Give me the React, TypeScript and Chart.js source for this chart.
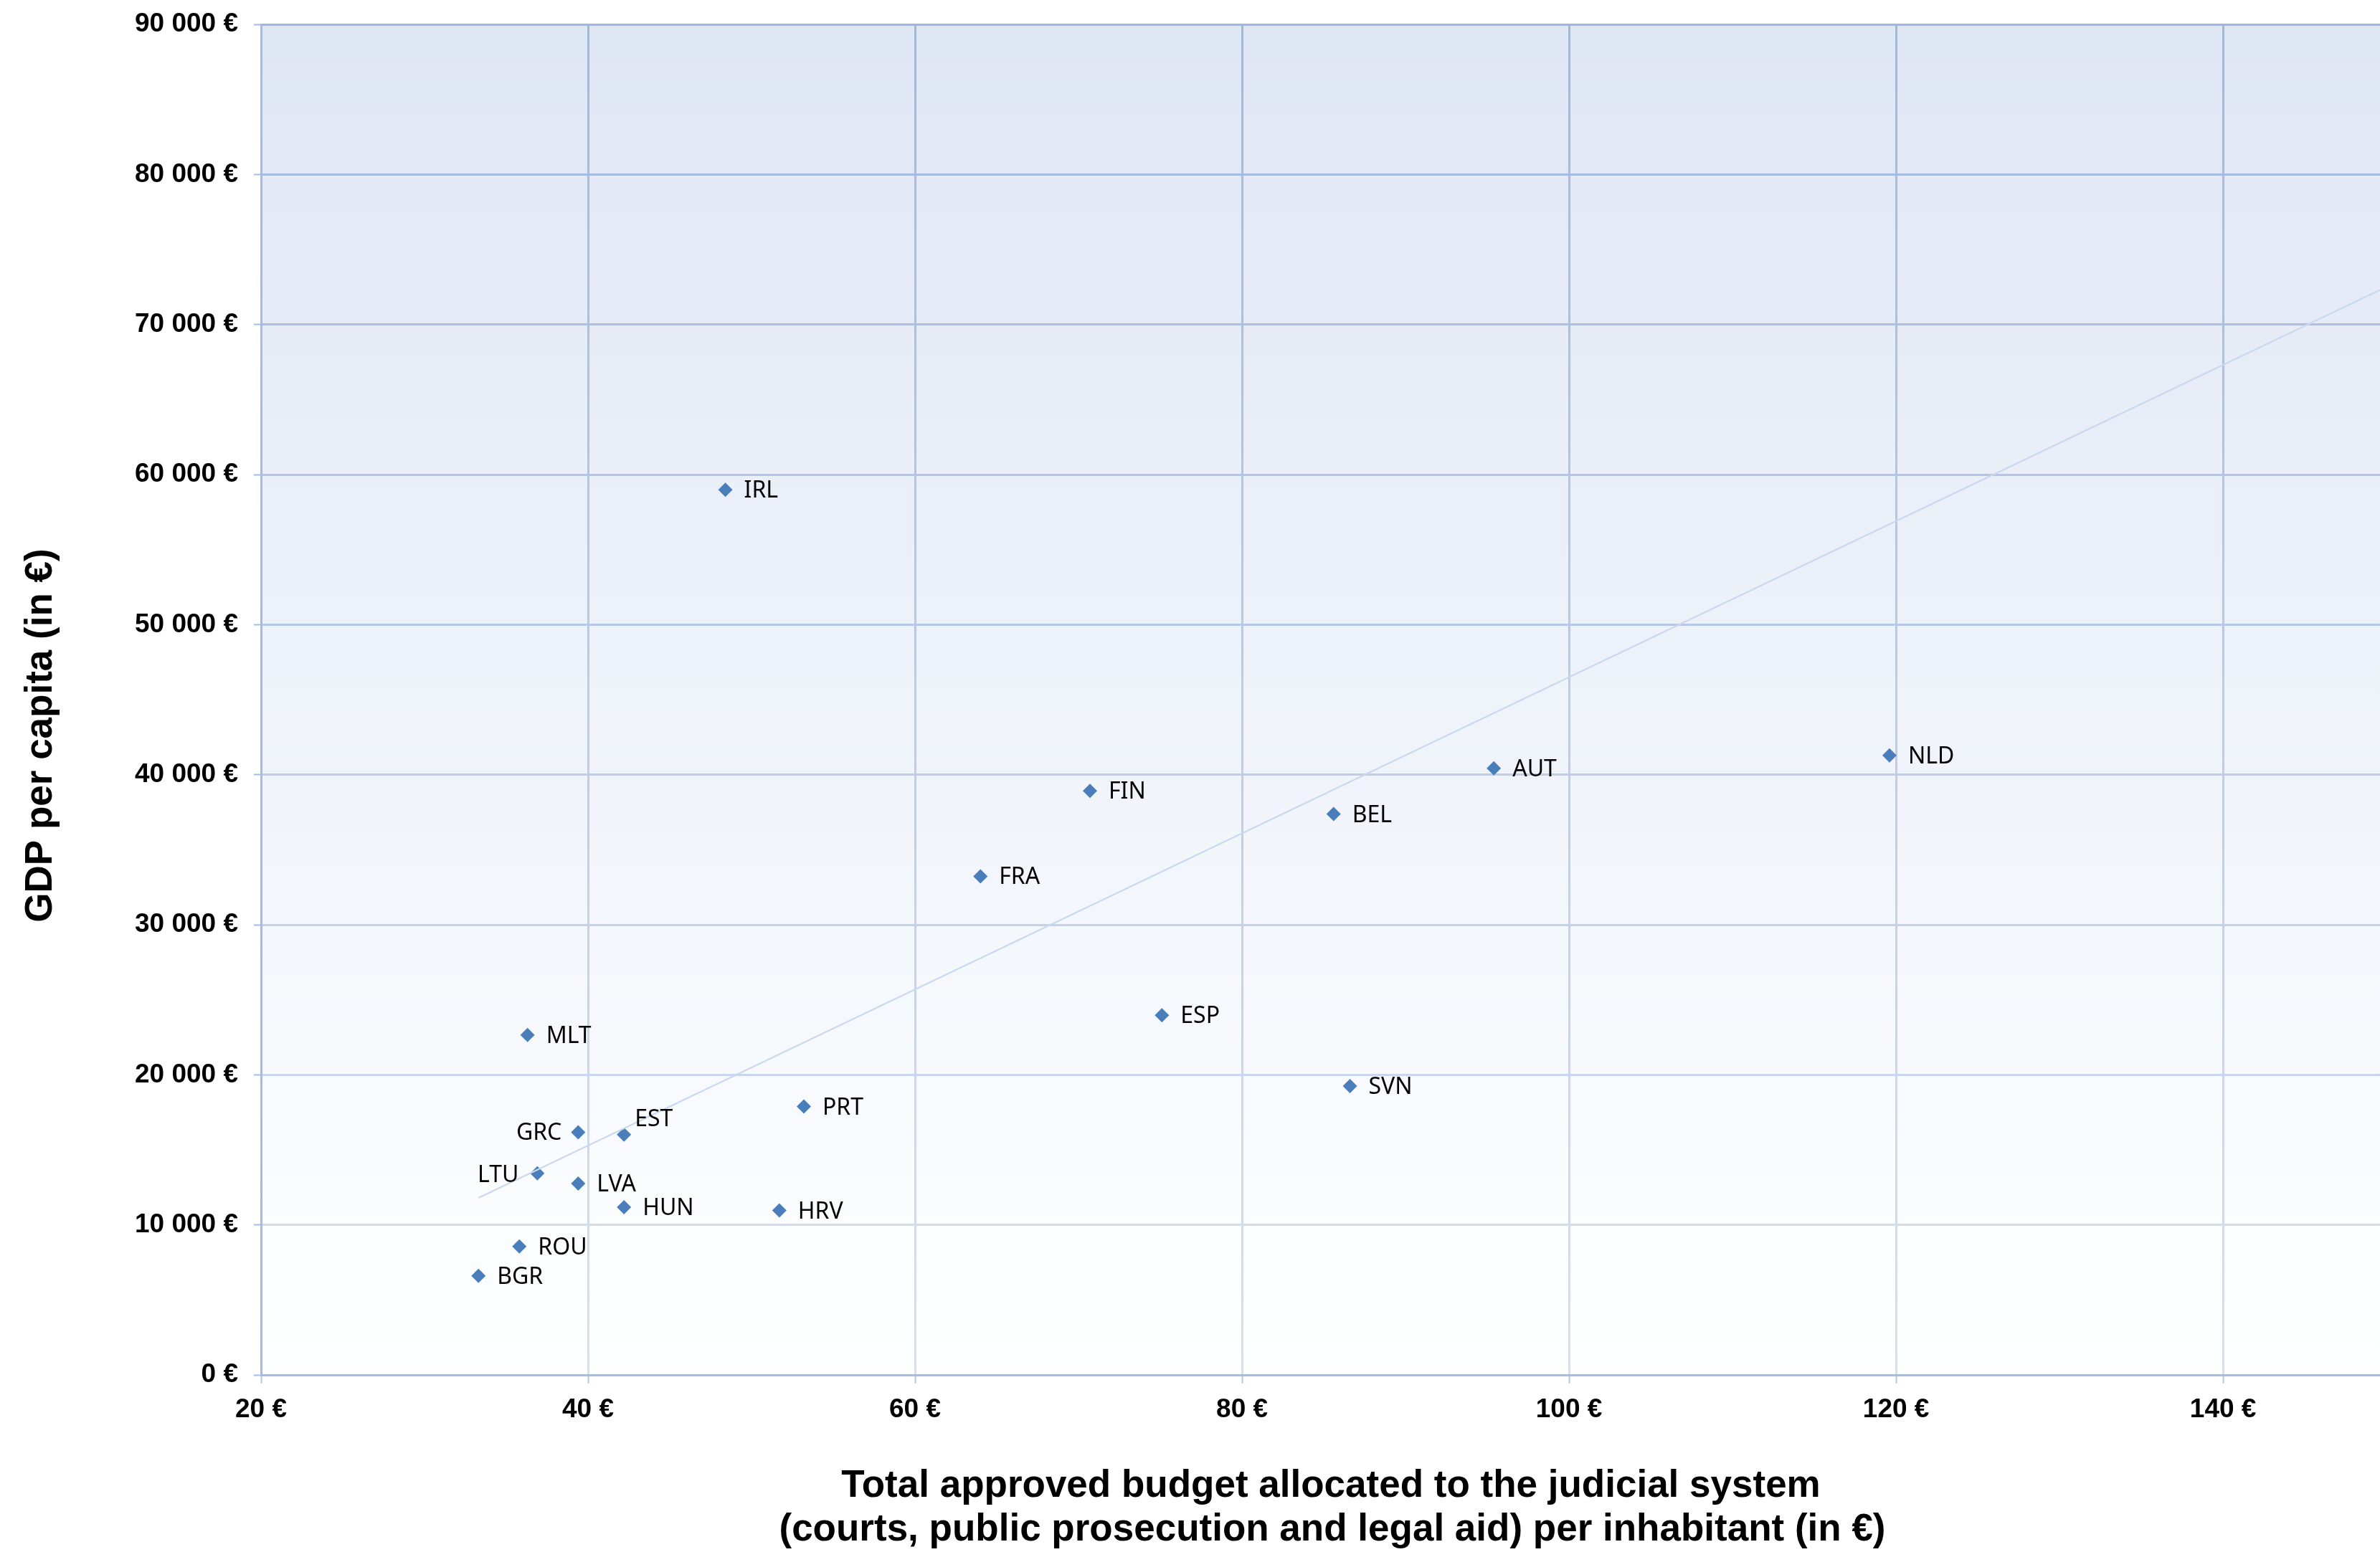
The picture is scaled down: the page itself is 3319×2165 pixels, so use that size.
import React, { useEffect, useRef } from "react";
import { Chart, registerables } from "chart.js";

Chart.register(...registerables);

// ---- Data ----
const countries = ["IRL", "FIN", "FRA", "ESP", "BEL", "AUT", "NLD", "SVN", "MLT", "PRT", "GRC", "EST", "LTU", "LVA", "HUN", "HRV", "ROU", "BGR"];
const budgetPerInhabitant = [48.4, 70.7, 64.0, 75.1, 85.6, 95.4, 119.6, 86.6, 36.3, 53.2, 39.4, 42.2, 36.9, 39.4, 42.2, 51.7, 35.8, 33.3];
const gdpPerCapita = [58980, 38920, 33230, 23970, 37380, 40420, 41280, 19250, 22650, 17890, 16170, 16020, 13440, 12750, 11180, 10960, 8560, 6600];
const trendBudget = [33.3, 149.6];
const trendGdp = [11800, 72300];
const xTickValues = [20, 40, 60, 80, 100, 120, 140];
const yTickValues = [0, 10000, 20000, 30000, 40000, 50000, 60000, 70000, 80000, 90000];
const xTitleLines = ["Total approved budget allocated to the judicial system", "(courts, public prosecution and legal aid) per inhabitant (in €)"];
const yTitle = "GDP per capita (in €)";

const W = 3319;
const H = 2165;

const mix = (a: number[], b: number[], t: number) => {
  const c = a.map((v, i) => Math.round(v + (b[i] - v) * t));
  return `rgb(${c[0]},${c[1]},${c[2]})`;
};
const STRONG = [158, 183, 225];
const LIGHT = [212, 224, 243];

const fmtThousands = (v: number) => {
  const s = Math.round(v).toString();
  return s.replace(/\B(?=(\d{3})+(?!\d))/g, " ");
};

const backgroundPlugin = {
  id: "plotBackground",
  beforeDraw(chart: any) {
    const { ctx, chartArea } = chart;
    if (!chartArea) return;
    const g = ctx.createLinearGradient(0, chartArea.top, 0, chartArea.bottom);
    g.addColorStop(0, "#dfe6f4");
    g.addColorStop(1, "#feffff");
    ctx.save();
    ctx.fillStyle = g;
    ctx.fillRect(chartArea.left, chartArea.top, chartArea.right - chartArea.left, chartArea.bottom - chartArea.top);
    ctx.restore();
  },
};

const labelOffsets: Record<string, { dx: number; dy: number; align: CanvasTextAlign }> = {
  GRC: { dx: -23, dy: 1, align: "right" },
  LTU: { dx: -26, dy: 3, align: "right" },
  EST: { dx: 15, dy: -21, align: "left" },
};

const pointLabelPlugin = {
  id: "pointLabels",
  afterDatasetsDraw(chart: any) {
    const meta = chart.getDatasetMeta(1);
    const ctx = chart.ctx;
    ctx.save();
    ctx.font = "32px 'Noto Sans'";
    ctx.fillStyle = "#000";
    ctx.textBaseline = "middle";
    meta.data.forEach((pt: any, i: number) => {
      const name = countries[i];
      const o = labelOffsets[name] || { dx: 26, dy: 2, align: "left" as CanvasTextAlign };
      ctx.textAlign = o.align;
      ctx.fillText(name, pt.x + o.dx, pt.y + o.dy);
    });
    ctx.restore();
  },
};

const axisTitlePlugin = {
  id: "axisTitles",
  afterDraw(chart: any) {
    const ctx = chart.ctx;
    ctx.save();
    ctx.fillStyle = "#000";
    ctx.font = "bold 53px 'Liberation Sans'";
    ctx.textAlign = "center";
    ctx.textBaseline = "alphabetic";
    ctx.fillText(xTitleLines[0], 1856, 2088);
    ctx.fillText(xTitleLines[1], 1858, 2149);
    ctx.translate(57, 1026);
    ctx.rotate(-Math.PI / 2);
    ctx.textBaseline = "middle";
    ctx.fillText(yTitle, 0, 0);
    ctx.restore();
  },
};

export default function App() {
  const ref = useRef<HTMLCanvasElement>(null);

  useEffect(() => {
    const canvas = ref.current;
    if (!canvas) return;
    const tickFont = { family: "'Liberation Sans', Arial, sans-serif", size: 37, weight: "bold" as const };

    const chart = new Chart(canvas, {
      type: "scatter",
      data: {
        datasets: [
          {
            type: "line",
            label: "Trend",
            data: trendBudget.map((x, i) => ({ x, y: trendGdp[i] })),
            borderColor: "#cad8ef",
            borderWidth: 2,
            pointRadius: 0,
            fill: false,
            order: 0,
          } as any,
          {
            label: "Countries",
            data: budgetPerInhabitant.map((x, i) => ({ x, y: gdpPerCapita[i] })),
            pointStyle: "rectRot",
            pointRadius: 10,
            pointHoverRadius: 10,
            backgroundColor: "#4a7ebb",
            borderColor: "#4a7ebb",
            borderWidth: 0,
            order: 1,
          },
        ],
      },
      options: {
        responsive: false,
        animation: false,
        events: [],
        layout: { autoPadding: false, padding: { top: 34, left: 0, right: 0, bottom: 0 } },
        plugins: {
          legend: { display: false },
          tooltip: { enabled: false },
          title: { display: false },
        },
        scales: {
          x: {
            type: "linear",
            min: 20,
            max: 149.6,
            afterBuildTicks: (scale: any) => {
              scale.ticks = xTickValues.map((v) => ({ value: v }));
            },
            afterFit: (scale: any) => {
              scale.height = H - 1918;
              scale.paddingLeft = 0;
              scale.paddingRight = 0;
            },
            ticks: {
              font: tickFont,
              color: "#000",
              padding: 15,
              maxRotation: 0,
              callback: (v: any) => `${v} €`,
            },
            grid: {
              drawTicks: true,
              tickLength: 12,
              lineWidth: 3,
              tickWidth: 2,
              tickColor: "#b4c7e7",
              color: (ctx: any) => {
                const area = ctx.chart.chartArea;
                if (!area) return "#c0d0ec";
                const g = ctx.chart.ctx.createLinearGradient(0, area.top, 0, area.bottom);
                g.addColorStop(0, mix(STRONG, STRONG, 0));
                g.addColorStop(1, mix(LIGHT, LIGHT, 0));
                return g;
              },
            },
            border: { display: true, color: "#a3bce3", width: 3 },
          },
          y: {
            type: "linear",
            min: 0,
            max: 90000,
            afterBuildTicks: (scale: any) => {
              scale.ticks = yTickValues.map((v) => ({ value: v }));
            },
            afterFit: (scale: any) => {
              scale.width = 364;
              scale.paddingTop = 0;
              scale.paddingBottom = 0;
            },
            ticks: {
              font: tickFont,
              color: "#000",
              padding: 22,
              callback: (v: any) => `${fmtThousands(Number(v))} €`,
            },
            grid: {
              drawTicks: true,
              tickLength: 10,
              lineWidth: 3,
              tickWidth: 2,
              tickColor: "#a3bce3",
              color: (ctx: any) => {
                const v = ctx.tick ? ctx.tick.value : 0;
                return mix(LIGHT, STRONG, v / 90000);
              },
            },
            border: { display: true, color: "#a3bce3", width: 3 },
          },
        },
      },
      plugins: [backgroundPlugin, pointLabelPlugin, axisTitlePlugin],
    } as any);

    return () => chart.destroy();
  }, []);

  return (
    <div style={{ position: "fixed", left: 0, top: 0, width: W, height: H, background: "#fff" }}>
      <canvas ref={ref} width={W} height={H} style={{ display: "block", width: W, height: H }} />
    </div>
  );
}
